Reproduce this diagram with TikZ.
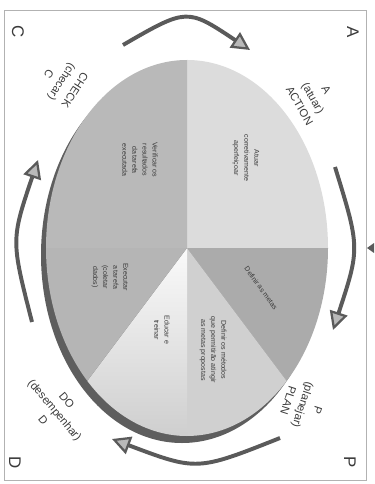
\documentclass[tikz,border=0pt]{standalone}
\usepackage{fontspec}
\setmainfont{Liberation Sans}
\usetikzlibrary{arrows.meta}

\definecolor{corAtuar}{HTML}{DCDCDC}
\definecolor{corMetas}{HTML}{ABABAB}
\definecolor{corMetodos}{HTML}{D0D0D0}
\definecolor{corExec}{HTML}{B5B5B5}
\definecolor{corVerif}{HTML}{B9B9B9}
\definecolor{corSombra}{HTML}{5E5E5E}
\definecolor{corSeta}{HTML}{5A5A5A}
\definecolor{corTexto}{HTML}{3A3A3A}

\tikzset{
	seta/.style={draw=corSeta, line width=2.8pt,
		-{Triangle[length=13pt,width=13pt,line width=1.6pt,fill=gray!55]}},
	texto/.style={font=\fontsize{5}{7.2}\selectfont, align=center, text=corTexto, rotate=-90},
	rotulo/.style={font=\fontsize{8}{11}\selectfont, align=center, text=corTexto},
	canto/.style={font=\fontsize{12}{12}\selectfont, text=corTexto, rotate=-90}
}

\begin{document}
\begin{tikzpicture}[x=0.025cm, y=-0.025cm]
	\useasboundingbox (0,0) rectangle (374,484);
	
	%Moldura
	\draw[gray!60, line width=0.6pt] (4,10) rectangle (366,480);
	\fill[corSeta] (374,243) -- (367,248) -- (374,253) -- cycle;
	
	%Sombra da elipse
	\fill[corSombra] (182,255) ellipse [x radius=141, y radius=188];
	
	%Setores
	\coordinate (c) at (187,248);
	\fill[corAtuar] (c) -- ++(0,-188) arc[start angle=270, end angle=360, x radius=141, y radius=188] -- cycle;
	\fill[corMetas] (c) -- ++(141,0) arc[start angle=0, end angle=45, x radius=141, y radius=188] -- cycle;
	\fill[corMetodos] (c) -- ++(99.7,132.9) arc[start angle=45, end angle=90, x radius=141, y radius=188] -- cycle;
	\shade[top color=gray!4, bottom color=gray!38] (c) -- ++(0,188) arc[start angle=90, end angle=135, x radius=141, y radius=188] -- cycle;
	\fill[corExec] (c) -- ++(-99.7,132.9) arc[start angle=135, end angle=180, x radius=141, y radius=188] -- cycle;
	\fill[corVerif] (c) -- ++(-141,0) arc[start angle=180, end angle=270, x radius=141, y radius=188] -- cycle;
	
	%Textos dos setores
	\node[texto] (atuar) at (246,158) {Atuar\\corretivamente\\aperfeiçoar};
	\node[texto, rotate=36] (metas) at (261,288) {Definir as metas};
	\node[texto] (metodos) at (213,350) {Definir os métodos\\que permitirão atingir\\as metas propostas};
	\node[texto] (educar) at (162,330) {Educar e\\treinar};
	\node[texto] (executar) at (110,277) {Executar\\a tarefa\\(coletar\\dados)};
	\node[texto] (verificar) at (140,160) {Verificar os\\resultados\\da tarefa\\executada};
	
	%Setas
	\coordinate (s1a) at (123,45);
	\coordinate (s1b) at (250,50);
	\coordinate (s2a) at (335,167);
	\coordinate (s2b) at (333,330);
	\coordinate (s3a) at (280,438);
	\coordinate (s3b) at (112,439);
	\coordinate (s4a) at (32,322);
	\coordinate (s4b) at (38,160);
	\draw[seta] (s1a) .. controls (187,8) .. (s1b);
	\draw[seta] (s2a) .. controls (360,248) .. (s2b);
	\draw[seta] (s3a) .. controls (197,471) .. (s3b);
	\draw[seta] (s4a) .. controls (11,240) .. (s4b);
	
	%Rotulos
	\node[rotulo, rotate=-60] (action) at (313,98) {A\\(atuar)\\ACTION};
	\node[rotulo, rotate=-108] (plan) at (303,405) {P\\(planejar)\\PLAN};
	\node[rotulo, rotate=-50] (do) at (55,410) {DO\\(desempenhar)\\D};
	\node[rotulo, rotate=-123] (check) at (62,82) {CHECK\\(checar)\\C};
	
	%Letras dos cantos
	\node[canto] (cA) at (353,32) {A};
	\node[canto] (cP) at (350,462) {P};
	\node[canto] (cD) at (15,463) {D};
	\node[canto] (cC) at (18,32) {C};
	
\end{tikzpicture}
\end{document}
